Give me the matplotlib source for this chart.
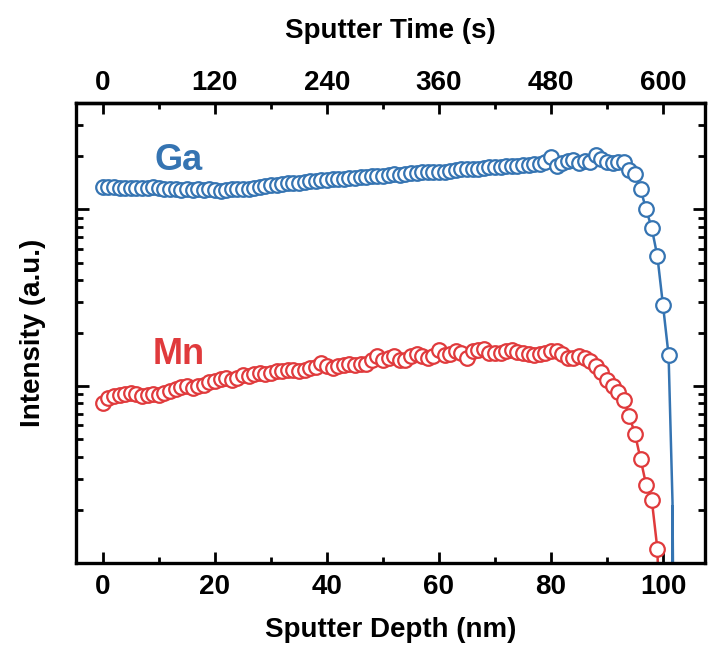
import numpy as np
import matplotlib
matplotlib.use("Agg")
import matplotlib.pyplot as plt
from matplotlib.ticker import MultipleLocator, FixedLocator, LogLocator, NullFormatter

plt.rcParams['font.family'] = ['Liberation Sans', 'DejaVu Sans']
plt.rcParams['font.weight'] = 'bold'

# Sputter depth (nm) sampling grids
ga_depth = np.arange(0, 102)          # 0 .. 101 nm
mn_depth = np.arange(0, 100)          # 0 .. 99 nm

# Intensities (a.u.)
ga_int = [133100, 133100, 133100, 132300, 132300, 132300, 132300, 131400, 132300, 133100,
          132300, 130600, 129700, 129700, 128900, 129700, 128900, 129700, 128900, 129700,
          128000, 127200, 128900, 129700, 129700, 129700, 130600, 131400, 133100, 134900,
          136600, 137500, 138400, 140300, 141200, 141200, 142100, 144000, 144900, 145800,
          145800, 147700, 147700, 148700, 149700, 150600, 151600, 152600, 153600, 153600,
          154600, 155600, 157700, 156700, 157700, 159700, 160800, 161800, 161800, 162800,
          163900, 163900, 165000, 166100, 168300, 168300, 169400, 168300, 170500, 172700,
          172700, 173900, 175000, 175000, 176200, 177300, 178500, 179600, 180800, 184300,
          196700, 175000, 181900, 189100, 191600, 181900, 189100, 186700, 201900, 194100,
          184300, 181900, 186700, 186700, 166100, 157700, 129700, 100000, 78100, 54300,
          28700, 14970]

mn_int = [8010, 8550, 8780, 8900, 9010, 9130, 9010, 8780, 8900, 9010,
          8900, 9130, 9370, 9620, 9870, 10000, 9740, 10000, 10130, 10530,
          10670, 10950, 11100, 10810, 11100, 11540, 11390, 11690, 11840, 11690,
          11840, 12150, 12150, 12310, 12310, 12150, 12310, 12640, 12800, 13490,
          12970, 12640, 12970, 13140, 13310, 13140, 13310, 13310, 14020, 14770,
          14020, 14390, 14770, 14020, 14020, 14770, 15160, 14770, 14390, 14770,
          15970, 14970, 15160, 15770, 15360, 14390, 15770, 15970, 16180, 15360,
          15360, 15360, 15770, 15970, 15560, 15360, 15160, 14970, 15160, 15360,
          15770, 15770, 15160, 14390, 14390, 14770, 14390, 13840, 12970, 12000,
          10810, 10000, 9250, 8330, 6770, 5360, 3870, 2760, 2270, 1200]

# line-only tails below the last markers
ga_tail_depth = [101, 101.7, 101.75, 101.7, 101.85]
ga_tail_int = [14970, 2200, 800, 2100, 500]
mn_tail_depth = [99, 99.2]
mn_tail_int = [1200, 700]

depth_ticks = [0, 20, 40, 60, 80, 100]
time_ticks = [0, 120, 240, 360, 480, 600]

ga_color = '#3574B2'
mn_color = '#E03A3C'

fig = plt.figure(figsize=(7.09, 6.49), dpi=100)
ax = fig.add_axes([76/709, 1-563/649, (705-76)/709, (563-103)/649])

ax.plot(ga_tail_depth, ga_tail_int, '-', color=ga_color, lw=1.8)
ax.plot(mn_tail_depth, mn_tail_int, '-', color=mn_color, lw=1.8)
ax.plot(ga_depth, ga_int, '-o', color=ga_color, lw=1.8, ms=10.5, mfc='white',
        mec=ga_color, mew=1.6)
ax.plot(mn_depth, mn_int, '-o', color=mn_color, lw=1.8, ms=10.5, mfc='white',
        mec=mn_color, mew=1.6)

ax.set_yscale('log')
ax.set_ylim(1e3, 4e5)
ax.set_xlim(-4.8, 107.5)

ax.xaxis.set_major_locator(FixedLocator(depth_ticks))
ax.xaxis.set_minor_locator(MultipleLocator(10))
ax.yaxis.set_major_locator(LogLocator(base=10, numticks=10))
ax.yaxis.set_minor_locator(LogLocator(base=10, subs=np.arange(2, 10), numticks=20))
ax.yaxis.set_major_formatter(NullFormatter())
ax.yaxis.set_minor_formatter(NullFormatter())

ax.tick_params(axis='both', which='both', direction='in', width=2)
ax.tick_params(axis='x', which='major', length=8, labelsize=20, pad=8, top=False)
ax.tick_params(axis='x', which='minor', length=4, top=False)
ax.tick_params(axis='y', which='major', length=9, right=True)
ax.tick_params(axis='y', which='minor', length=5, right=True)
for s in ax.spines.values():
    s.set_linewidth(2.4)

sec = ax.secondary_xaxis('top', functions=(lambda d: d * 6.0, lambda t: t / 6.0))
sec.xaxis.set_major_locator(FixedLocator(time_ticks))
sec.xaxis.set_minor_locator(FixedLocator([60, 180, 300, 420, 540]))
sec.tick_params(axis='x', which='major', direction='in', length=8, width=2,
                labelsize=20, pad=5)
sec.tick_params(axis='x', which='minor', direction='in', length=4, width=2)
sec.spines['top'].set_linewidth(2.4)
sec.set_xlabel('Sputter Time (s)', fontsize=20, fontweight='bold', labelpad=23)

ax.set_xlabel('Sputter Depth (nm)', fontsize=20, fontweight='bold', labelpad=12)
ax.set_ylabel('Intensity (a.u.)', fontsize=20, fontweight='bold', labelpad=18)

ax.text(179/709, 1-160/649, 'Ga', transform=fig.transFigure, color=ga_color,
        fontsize=26, fontweight='bold', ha='center', va='center')
ax.text(179/709, 1-355/649, 'Mn', transform=fig.transFigure, color=mn_color,
        fontsize=26, fontweight='bold', ha='center', va='center')

fig.savefig('out.png', dpi=100)
